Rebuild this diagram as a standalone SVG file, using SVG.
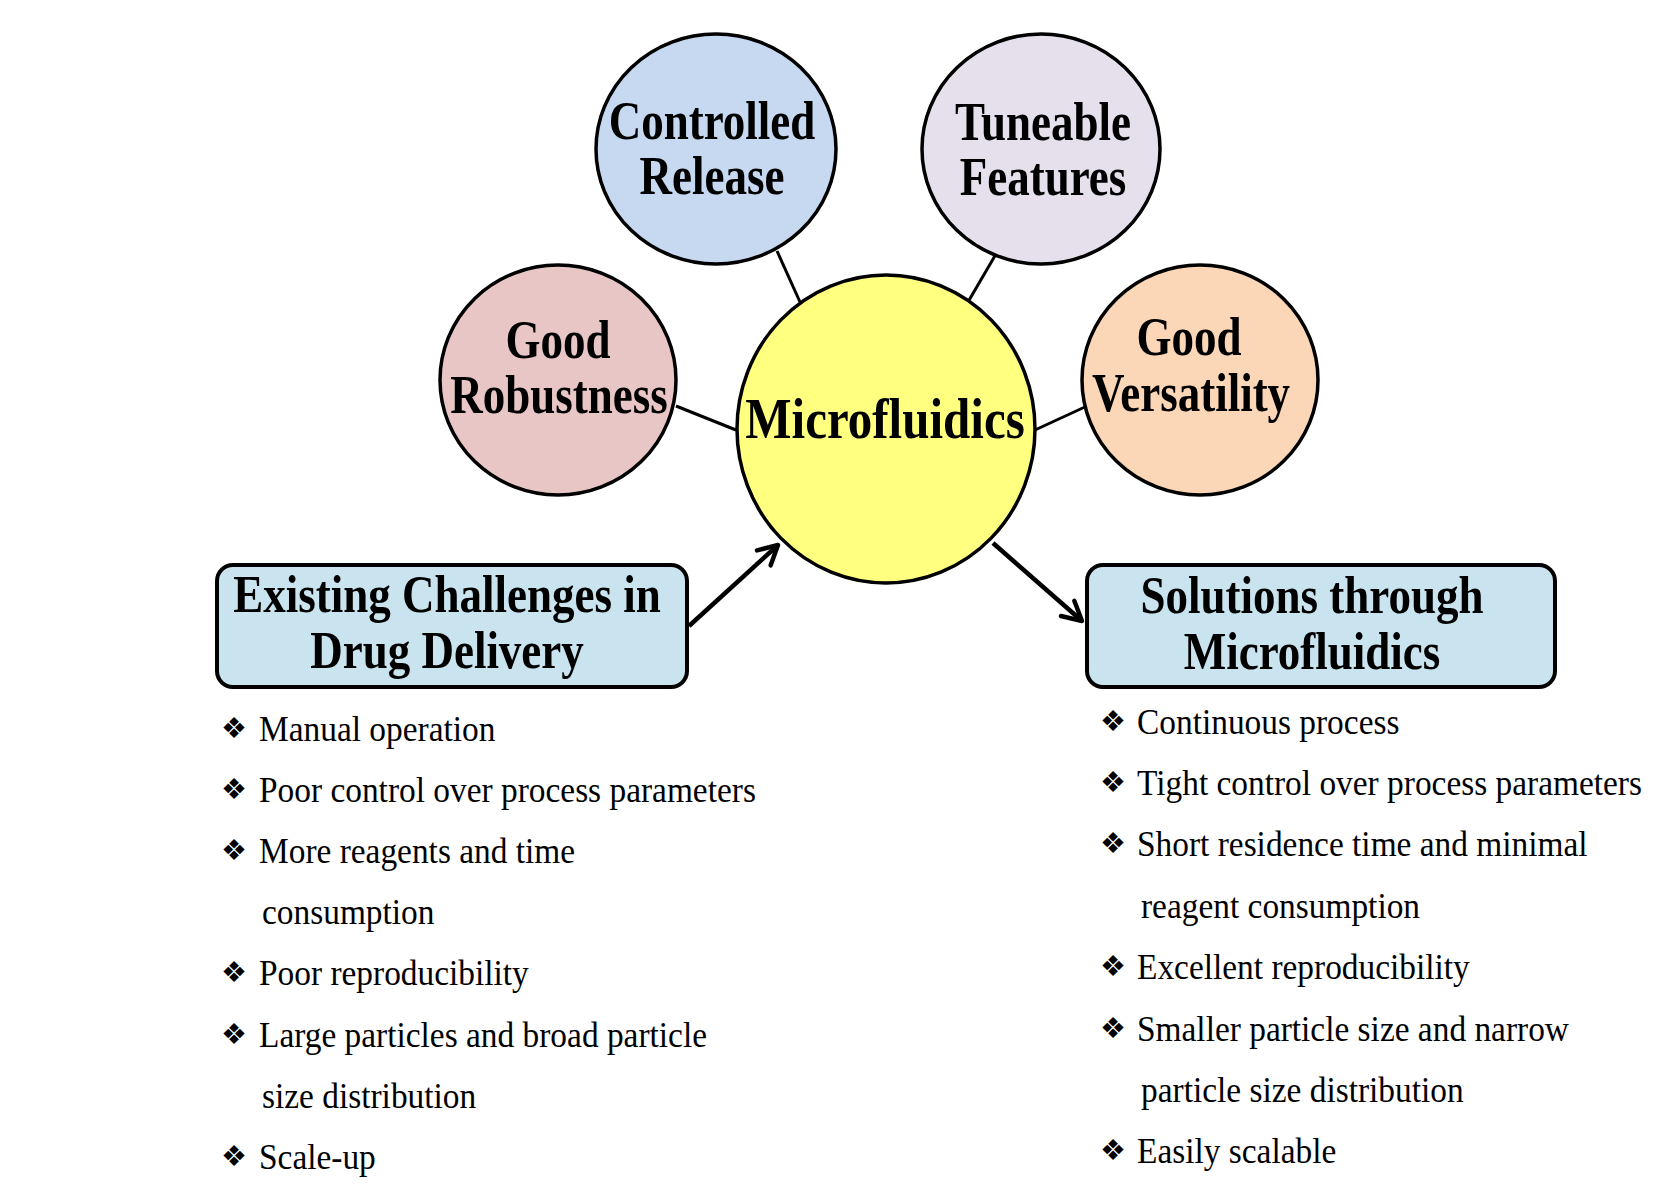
<svg xmlns="http://www.w3.org/2000/svg" width="1662" height="1190" viewBox="0 0 1662 1190">
  <style>
    .node { stroke: #000; stroke-width: 3.5; }
    .box { stroke: #000; stroke-width: 4; }
    .title { font-family: "Liberation Serif", "Times New Roman", serif; font-weight: bold; font-size: 45px; text-anchor: middle; fill: #000; }
    .item { font-family: "Liberation Serif", "Times New Roman", serif; font-size: 33.4px; fill: #000; }
    .bullet { font-family: "DejaVu Sans", sans-serif; font-size: 29px; fill: #000; }
    .link { stroke: #000; stroke-width: 3; fill: none; }
    .arrow { stroke: #000; stroke-width: 4.5; fill: none; marker-end: url(#chevron); }
  </style>
  <defs>
    <marker id="chevron" viewBox="0 0 12 12" refX="10" refY="6" markerWidth="6" markerHeight="6" orient="auto" markerUnits="strokeWidth">
      <path d="M1.5,1.5 L10,6 L1.5,10.5" fill="none" stroke="#000" stroke-width="2" stroke-linejoin="round" stroke-linecap="round"/>
    </marker>
  </defs>
  <rect width="1662" height="1190" fill="#fff"/>

  <!-- spokes and flow arrows -->
  <g id="connectors">
    <line class="link" x1="777" y1="251" x2="800" y2="302"/>
    <line class="link" x1="996" y1="254" x2="968" y2="302"/>
    <line class="link" x1="676" y1="406" x2="736" y2="430"/>
    <line class="link" x1="1035" y1="430" x2="1087" y2="406"/>
    <line class="arrow" x1="689" y1="626" x2="778" y2="545"/>
    <line class="arrow" x1="993" y1="543" x2="1082" y2="621"/>
  </g>

  <g id="controlled-release">
    <ellipse class="node" cx="716" cy="149" rx="120" ry="115" fill="#c6d9f1"/>
    <text class="title" transform="translate(712,139) scale(1,1.2)">Controlled</text>
    <text class="title" transform="translate(712,194) scale(1,1.2)">Release</text>
  </g>

  <g id="tuneable-features">
    <ellipse class="node" cx="1041" cy="149" rx="119" ry="115" fill="#e5e0ec"/>
    <text class="title" transform="translate(1043,140) scale(1,1.2)">Tuneable</text>
    <text class="title" transform="translate(1043,195) scale(1,1.2)">Features</text>
  </g>

  <g id="good-robustness">
    <ellipse class="node" cx="558" cy="380" rx="118" ry="115" fill="#e8c6c6"/>
    <text class="title" transform="translate(558,358) scale(1,1.2)">Good</text>
    <text class="title" transform="translate(559,413) scale(1,1.2)">Robustness</text>
  </g>

  <g id="good-versatility">
    <ellipse class="node" cx="1200" cy="380" rx="118" ry="115" fill="#fbd6b7"/>
    <text class="title" transform="translate(1189,355) scale(1,1.2)">Good</text>
    <text class="title" transform="translate(1191,411) scale(1,1.2)">Versatility</text>
  </g>

  <g id="microfluidics">
    <ellipse class="node" cx="886" cy="429" rx="149" ry="154" fill="#ffff80"/>
    <text class="title" transform="translate(885,438) scale(1,1.15)" style="font-size:49px">Microfluidics</text>
  </g>

  <g id="existing-challenges">
    <rect class="box" x="217" y="565" width="470" height="122" rx="16" fill="#c9e4ee"/>
    <text class="title" transform="translate(447,612) scale(1,1.16)">Existing Challenges in</text>
    <text class="title" transform="translate(447,668) scale(1,1.16)">Drug Delivery</text>
  </g>

  <g id="solutions">
    <rect class="box" x="1087" y="565" width="468" height="122" rx="16" fill="#c9e4ee"/>
    <text class="title" transform="translate(1312,613) scale(1,1.16)">Solutions through</text>
    <text class="title" transform="translate(1312,669) scale(1,1.16)">Microfluidics</text>
  </g>

  <g id="challenges-list">
    <text class="bullet" x="221" y="738">❖</text>
    <text class="item" transform="translate(259,741) scale(1,1.1)">Manual operation</text>
    <text class="bullet" x="221" y="799">❖</text>
    <text class="item" transform="translate(259,802) scale(1,1.1)">Poor control over process parameters</text>
    <text class="bullet" x="221" y="860">❖</text>
    <text class="item" transform="translate(259,863) scale(1,1.1)">More reagents and time</text>
    <text class="item" transform="translate(262,924) scale(1,1.1)">consumption</text>
    <text class="bullet" x="221" y="982">❖</text>
    <text class="item" transform="translate(259,985) scale(1,1.1)">Poor reproducibility</text>
    <text class="bullet" x="221" y="1044">❖</text>
    <text class="item" transform="translate(259,1047) scale(1,1.1)">Large particles and broad particle</text>
    <text class="item" transform="translate(262,1108) scale(1,1.1)">size distribution</text>
    <text class="bullet" x="221" y="1166">❖</text>
    <text class="item" transform="translate(259,1169) scale(1,1.1)">Scale-up</text>
  </g>

  <g id="solutions-list">
    <text class="bullet" x="1100" y="731">❖</text>
    <text class="item" transform="translate(1137,734) scale(1,1.1)">Continuous process</text>
    <text class="bullet" x="1100" y="792">❖</text>
    <text class="item" transform="translate(1137,795) scale(1,1.1)">Tight control over process parameters</text>
    <text class="bullet" x="1100" y="853">❖</text>
    <text class="item" transform="translate(1137,856) scale(1,1.1)">Short residence time and minimal</text>
    <text class="item" transform="translate(1141,918) scale(1,1.1)">reagent consumption</text>
    <text class="bullet" x="1100" y="976">❖</text>
    <text class="item" transform="translate(1137,979) scale(1,1.1)">Excellent reproducibility</text>
    <text class="bullet" x="1100" y="1038">❖</text>
    <text class="item" transform="translate(1137,1041) scale(1,1.1)">Smaller particle size and narrow</text>
    <text class="item" transform="translate(1141,1102) scale(1,1.1)">particle size distribution</text>
    <text class="bullet" x="1100" y="1160">❖</text>
    <text class="item" transform="translate(1137,1163) scale(1,1.1)">Easily scalable</text>
  </g>
</svg>
